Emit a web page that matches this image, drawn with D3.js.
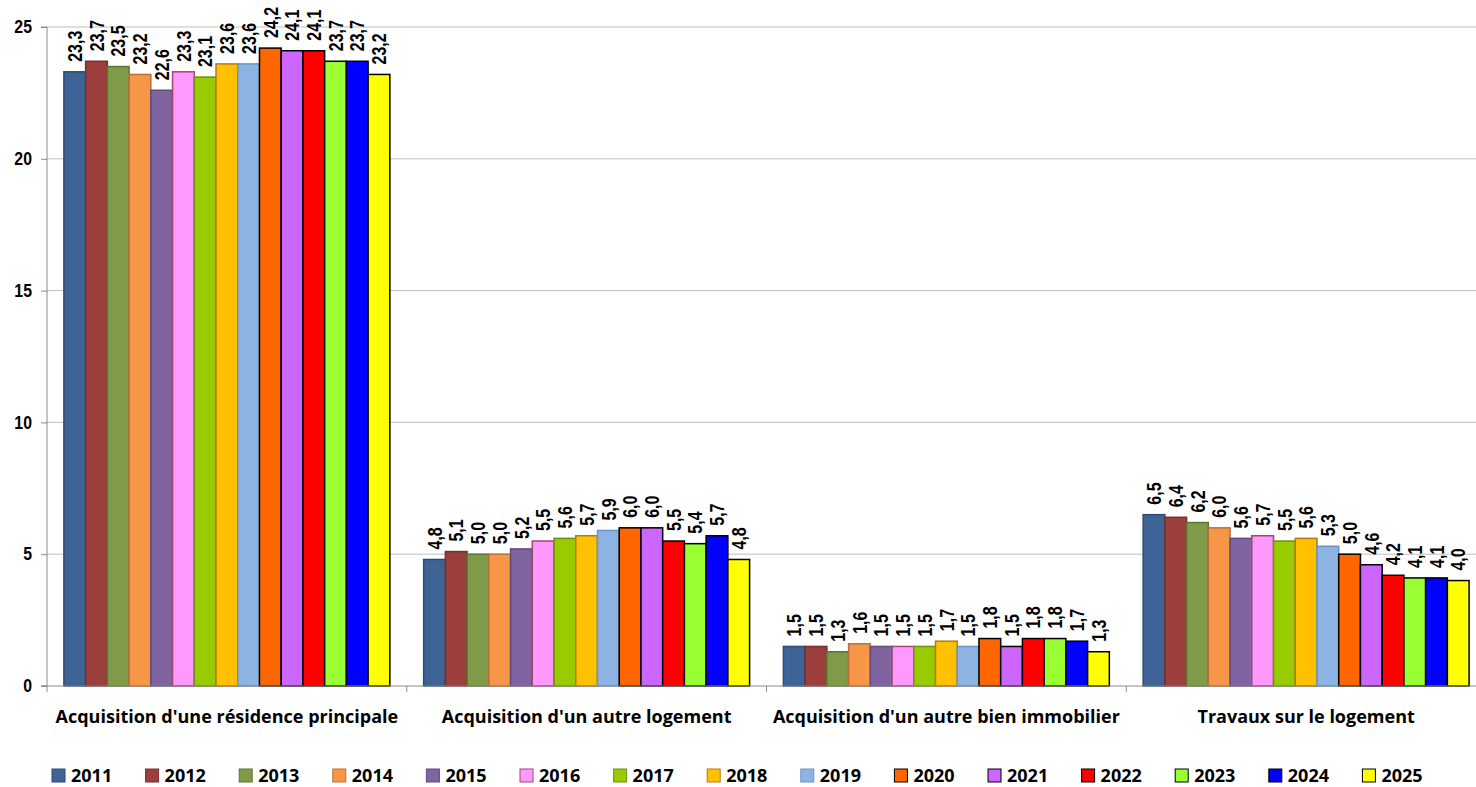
<!DOCTYPE html>
<html lang="fr">
<head>
<meta charset="utf-8">
<script src="https://cdn.jsdelivr.net/npm/d3@7"></script>
<style>
  html, body { margin: 0; padding: 0; background: #fff; }
  svg { display: block; }
</style>
</head>
<body>
<svg id="chart" width="1476" height="787"></svg>
<script>
// Catégories d'objet de l'endettement et années comparées
const categories = [
  "Acquisition d'une résidence principale",
  "Acquisition d'un autre logement",
  "Acquisition d'un autre bien immobilier",
  "Travaux sur le logement"
];
const years = ["2011","2012","2013","2014","2015","2016","2017","2018","2019","2020","2021","2022","2023","2024","2025"];

// Valeurs (en %) par catégorie, une entrée par année
const residencePrincipale = [23.3, 23.7, 23.5, 23.2, 22.6, 23.3, 23.1, 23.6, 23.6, 24.2, 24.1, 24.1, 23.7, 23.7, 23.2];
const autreLogement       = [4.8, 5.1, 5.0, 5.0, 5.2, 5.5, 5.6, 5.7, 5.9, 6.0, 6.0, 5.5, 5.4, 5.7, 4.8];
const autreBienImmobilier = [1.5, 1.5, 1.3, 1.6, 1.5, 1.5, 1.5, 1.7, 1.5, 1.8, 1.5, 1.8, 1.8, 1.7, 1.3];
const travauxLogement     = [6.5, 6.4, 6.2, 6.0, 5.6, 5.7, 5.5, 5.6, 5.3, 5.0, 4.6, 4.2, 4.1, 4.1, 4.0];

const yTicks = [0, 5, 10, 15, 20, 25];

// Couleurs de remplissage et de contour par année
const fills   = ["#3E6497","#9C3E3B","#7F9A48","#F79646","#8064A2","#FF99FF","#99CC00","#FFC000","#8DB3E2","#FF6600","#CC66FF","#FF0000","#99FF33","#0000FF","#FFFF00"];
const strokes = ["#2E4A72","#74302D","#5E7335","#B8703A","#5F4A7A","#A0496E","#6E8F13","#B57A16","#6C93C4","#000000","#000000","#000000","#000000","#000000","#000000"];

const series = [residencePrincipale, autreLogement, autreBienImmobilier, travauxLogement];
const rows = categories.map((c, i) => ({
  category: c,
  values: years.map((y, j) => ({ year: y, value: series[i][j], idx: j }))
}));

// Police condensée : on resserre le texte sur sa longueur naturelle
function condense(sel, ratio) {
  sel.each(function () {
    const w = this.getComputedTextLength();
    d3.select(this).attr("textLength", w * ratio).attr("lengthAdjust", "spacingAndGlyphs");
  });
}

const svg = d3.select("#chart");

const plotLeft = 47, plotTop = 27, plotBottom = 686;
const groupStep = 359.75;

const x0 = d3.scaleBand()
  .domain(categories)
  .range([plotLeft, plotLeft + groupStep * categories.length])
  .paddingInner(0.094)
  .paddingOuter(0.047);

const x1 = d3.scaleBand()
  .domain(years)
  .range([0, x0.bandwidth()])
  .padding(0);

const y = d3.scaleLinear().domain([0, 25]).range([plotBottom, plotTop]);

// Grille horizontale
svg.append("g")
  .selectAll("line")
  .data(yTicks.filter(t => t > 0))
  .join("line")
  .attr("x1", plotLeft).attr("x2", 1476)
  .attr("y1", d => y(d)).attr("y2", d => y(d))
  .attr("stroke", "#BFBFBF").attr("stroke-width", 1);

// Axe vertical
const yAxis = d3.axisLeft(y).tickValues(yTicks).tickSize(6).tickPadding(9).tickFormat(d3.format("d"));
const gy = svg.append("g").attr("transform", `translate(${plotLeft},0)`).call(yAxis);
gy.select(".domain").attr("stroke", "#8C8C8C").attr("d", `M-6,${plotTop}H0V${plotBottom}H-6`);
gy.selectAll(".tick line").attr("stroke", "#8C8C8C");
gy.selectAll(".tick text")
  .attr("fill", "#000")
  .style("font-family", "'Liberation Sans', Arial, sans-serif")
  .style("font-weight", "bold")
  .style("font-size", "18px")
  .call(condense, 0.88);

// Barres
const groups = svg.append("g")
  .selectAll("g")
  .data(rows)
  .join("g")
  .attr("transform", d => `translate(${x0(d.category)},0)`);

groups.selectAll("rect")
  .data(d => d.values)
  .join("rect")
  .attr("x", d => x1(d.year))
  .attr("y", d => y(d.value))
  .attr("width", x1.bandwidth())
  .attr("height", d => y(0) - y(d.value))
  .attr("fill", d => fills[d.idx])
  .attr("stroke", d => strokes[d.idx])
  .attr("stroke-width", 1.5);

// Étiquettes de valeur
const fmt = v => d3.format(".1f")(v).replace(".", ",");
groups.selectAll("text")
  .data(d => d.values)
  .join("text")
  .attr("transform", d => `translate(${x1(d.year) + x1.bandwidth() / 2},${y(d.value) - 10}) rotate(-90)`)
  .attr("dy", "0.36em")
  .attr("text-anchor", "start")
  .style("font-family", "'Liberation Sans', Arial, sans-serif")
  .style("font-weight", "bold")
  .style("font-size", "20px")
  .attr("fill", "#000")
  .text(d => fmt(d.value))
  .call(condense, 0.8);

// Axe horizontal
const xAxis = d3.axisBottom(x0).tickSize(0).tickPadding(0).tickFormat("");
const gx = svg.append("g").attr("transform", `translate(0,${plotBottom})`).call(xAxis);
gx.select(".domain").attr("stroke", "#8C8C8C").attr("d", `M${plotLeft - 6},0H1476`);
gx.selectAll(".tick").remove();

const boundaries = d3.range(categories.length + 1).map(i => plotLeft + i * x0.step());
gx.append("g").selectAll("line")
  .data(boundaries)
  .join("line")
  .attr("x1", d => d).attr("x2", d => d)
  .attr("y1", 0).attr("y2", 6)
  .attr("stroke", "#8C8C8C");

gx.append("g").selectAll("text")
  .data(categories)
  .join("text")
  .attr("x", d => x0(d) + x0.bandwidth() / 2)
  .attr("y", 37)
  .attr("text-anchor", "middle")
  .style("font-family", "'Open Sans', Lato, sans-serif")
  .style("font-weight", "bold")
  .style("font-size", "18px")
  .attr("fill", "#000")
  .text(d => d);

// Légende
const legend = svg.append("g")
  .selectAll("g")
  .data(years)
  .join("g")
  .attr("transform", (d, i) => `translate(${52 + i * 93.6},769)`);

legend.append("rect")
  .attr("width", 13).attr("height", 13)
  .attr("fill", (d, i) => fills[i])
  .attr("stroke", (d, i) => strokes[i])
  .attr("stroke-width", 1);

legend.append("text")
  .attr("x", 19).attr("y", 13)
  .style("font-family", "'Open Sans', Lato, sans-serif")
  .style("font-weight", "bold")
  .style("font-size", "18px")
  .attr("fill", "#000")
  .text(d => d);
</script>
</body>
</html>
